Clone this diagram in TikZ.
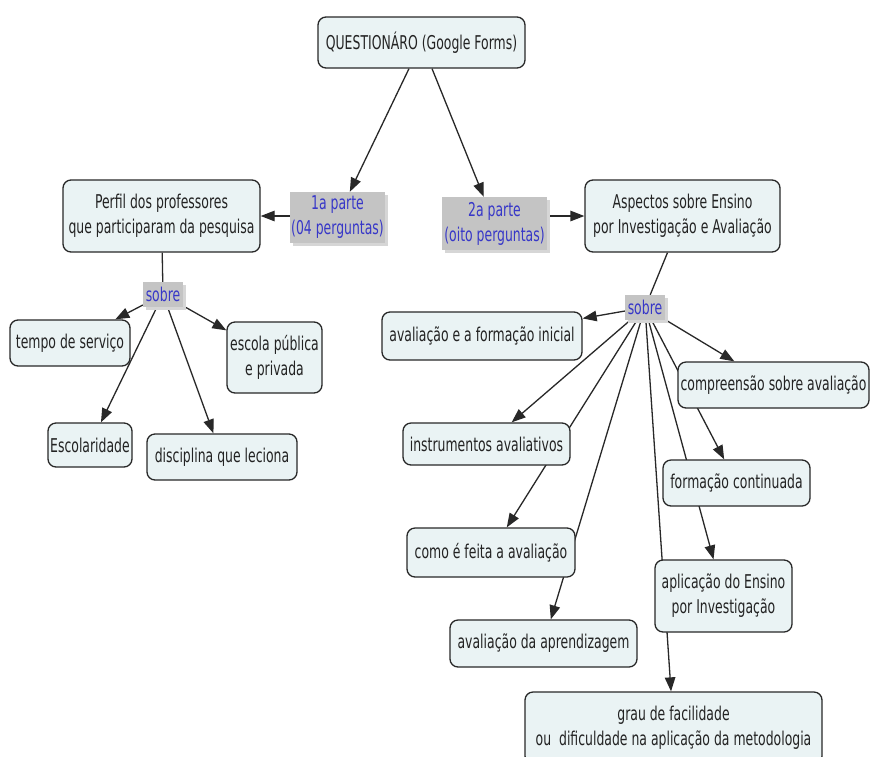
\documentclass[tikz,border=0pt]{standalone}
\usepackage{fontspec}
\setmainfont[FakeStretch=0.655]{DejaVu Sans}
\usetikzlibrary{arrows.meta,backgrounds,shadows}
\definecolor{boxfill}{RGB}{234,243,244}
\definecolor{boxline}{RGB}{40,40,40}
\definecolor{lblfill}{RGB}{196,196,196}
\definecolor{lblshadow}{RGB}{214,214,214}
\definecolor{lbltext}{RGB}{55,55,200}
\definecolor{txt}{RGB}{35,35,35}
\begin{document}
\begin{tikzpicture}[x=1pt,y=-1pt,
  box/.style={draw=boxline, line width=1.3pt, fill=boxfill, rounded corners=8pt,
    align=center, text=txt, inner sep=0pt, font=\fontsize{19}{25}\selectfont},
  lbl/.style={fill=lblfill, text=lbltext, align=center, inner sep=0pt,
    font=\fontsize{19}{25}\selectfont,
    drop shadow={shadow xshift=3pt, shadow yshift=-3pt, fill=lblshadow, opacity=1}},
  con/.style={draw=boxline, line width=1.3pt},
  arr/.style={con, -{Triangle[length=14pt,width=10.5pt]}}]
\useasboundingbox (0,0) rectangle (872,756);

% top
\node[box, minimum width=207, minimum height=51] (q) at (421.5,42.5) {QUESTIONÁRO (Google Forms)};
\node[lbl, minimum width=95, minimum height=51] (p1) at (337.5,217.5) {1a parte\\(04 perguntas)};
\node[lbl, minimum width=105, minimum height=53] (p2) at (494.5,223.5) {2a parte\\(oito perguntas)};
\node[box, minimum width=197, minimum height=72] (perfil) at (161.5,216) {Perfil dos professores\\que participaram da pesquisa};
\node[box, minimum width=195, minimum height=72] (asp) at (682.5,216) {Aspectos sobre Ensino\\por Investigação e Avaliação};

% left branch
\node[lbl, minimum width=40, minimum height=25] (sl) at (163,294.5) {sobre};
\node[box, minimum width=120, minimum height=46] (tempo) at (70,343) {tempo de serviço};
\node[box, minimum width=95, minimum height=71] (escola) at (274.5,357.5) {escola pública\\e privada};
\node[box, minimum width=84, minimum height=44] (escol) at (90,445) {Escolaridade};
\node[box, minimum width=150, minimum height=46] (disc) at (222,457) {disciplina que leciona};

% right branch
\node[lbl, minimum width=40, minimum height=25] (sr) at (645,307.5) {sobre};
\node[box, minimum width=200, minimum height=48] (avfi) at (482,336) {avaliação e a formação inicial};
\node[box, minimum width=191, minimum height=46] (comp) at (773.5,385) {compreensão sobre avaliação};
\node[box, minimum width=167, minimum height=42] (instr) at (486.5,444) {instrumentos avaliativos};
\node[box, minimum width=147, minimum height=46] (form) at (736.5,483) {formação continuada};
\node[box, minimum width=168, minimum height=49] (como) at (491,552.5) {como é feita a avaliação};
\node[box, minimum width=137, minimum height=72] (apl) at (723.5,596) {aplicação do Ensino\\por Investigação};
\node[box, minimum width=187, minimum height=47] (aprend) at (543.5,643.5) {avaliação da aprendizagem};
\node[box, minimum width=297, minimum height=72] (grau) at (673.5,728) {grau de facilidade\\ou\ \ dificuldade na aplicação da metodologia};

\begin{pgfonlayer}{background}
\fill[white] (0,0) rectangle (872,756);
\draw[arr] (q) -- (p1);
\draw[arr] (q) -- (p2);
\draw[arr] (p1.west |- perfil.east) -- (perfil.east);
\draw[arr] (p2.east |- asp.west) -- (asp.west);
\draw[con] (perfil) -- (sl);
\draw[con] (asp) -- (sr);
\draw[arr] (sl) -- (tempo);
\draw[arr] (sl) -- (escola);
\draw[arr] (sl) -- (escol);
\draw[arr] (sl) -- (disc);
\draw[arr] (sr) -- (avfi);
\draw[arr] (sr) -- (comp);
\draw[arr] (sr) -- (instr);
\draw[arr] (sr) -- (form);
\draw[arr] (sr) -- (como);
\draw[arr] (sr) -- (apl);
\draw[arr] (sr) -- (aprend);
\draw[arr] (sr) -- (grau);
\end{pgfonlayer}
\end{tikzpicture}
\end{document}
